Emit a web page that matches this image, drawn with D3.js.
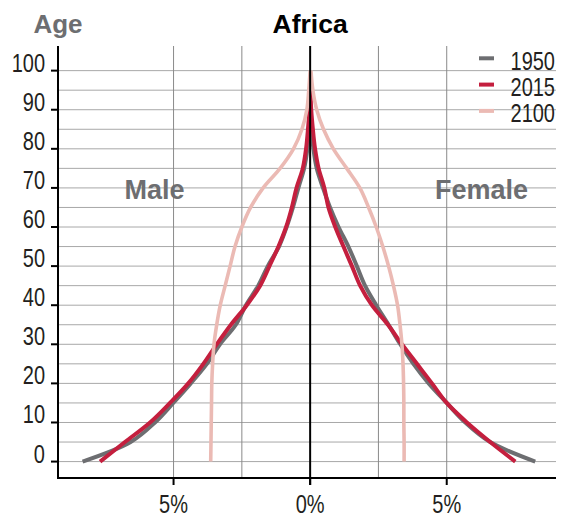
<!DOCTYPE html>
<html><head><meta charset="utf-8">
<script src="https://cdn.jsdelivr.net/npm/d3@7"></script>
<style>body{margin:0;background:#fff} svg{display:block}</style>
</head><body><svg id="c" width="563" height="518"></svg>
<script>
// ---- data (% of total population, by 5-year age group) ----
const ages = [0,5,10,15,20,25,30,35,40,45,50,55,60,65,70,75,80,85,90,95,100];
const male1950   = [8.33,6.57,5.68,5.01,4.37,3.78,3.30,2.72,2.35,1.90,1.55,1.14,0.86,0.63,0.43,0.22,0.10,0.04,0.01,null,null];
const male2015   = [7.69,6.78,5.86,5.13,4.46,3.91,3.42,2.90,2.32,1.83,1.49,1.16,0.88,0.67,0.50,0.27,0.15,0.08,0.03,0.01,null];
const male2100   = [3.64,3.63,3.62,3.61,3.60,3.57,3.52,3.42,3.29,3.11,2.93,2.75,2.50,2.18,1.72,1.10,0.61,0.30,0.12,0.05,0.00];
const female1950 = [8.24,6.59,5.68,5.00,4.34,3.78,3.30,2.87,2.42,2.01,1.71,1.40,1.04,0.73,0.47,0.24,0.12,0.05,0.01,null,null];
const female2015 = [7.51,6.59,5.74,5.00,4.46,3.91,3.36,2.85,2.26,1.83,1.53,1.22,0.92,0.67,0.52,0.31,0.18,0.10,0.04,0.01,null];
const female2100 = [3.44,3.44,3.43,3.43,3.42,3.40,3.36,3.29,3.20,3.05,2.87,2.66,2.42,2.14,1.82,1.34,0.85,0.49,0.24,0.10,0.03];
const years = ["1950","2015","2100"];
const colors = ["#6d6e71","#c41f3e","#ebbab4"];
const yTicks = [0,10,20,30,40,50,60,70,80,90,100];
const xTicks = [-5,0,5];
const xTickLabels = ["5%","0%","5%"];
const xGrid = [-5,-2.5,2.5,5];

const series = [
  {year:"1950", male:male1950, female:female1950},
  {year:"2015", male:male2015, female:female2015},
  {year:"2100", male:male2100, female:female2100}
];

const svg = d3.select("#c");
const numFont = "'Liberation Sans',Arial,sans-serif";
const boldFont = "'Liberation Sans',Arial,sans-serif";
const NUM_SIZE = 25, NUM_SX = 0.8;

function numText(g, px, py, txt, anchor) {
  g.append("text")
    .attr("transform", `translate(${px},${py}) scale(${NUM_SX},1)`)
    .attr("dy", "0.36em")
    .attr("text-anchor", anchor)
    .attr("font-family", numFont).attr("font-size", NUM_SIZE).attr("fill", "#231f20")
    .text(txt);
}

const x = d3.scaleLinear().domain([-9.23, 9.0]).range([58, 556]);
const y = d3.scaleLinear().domain([-4.2, 106.3]).range([478, 46]);

// horizontal grid
svg.append("g").selectAll("line").data(ages).join("line")
  .attr("x1", x.range()[0]).attr("x2", x.range()[1])
  .attr("y1", d => y(d)).attr("y2", d => y(d))
  .attr("stroke", "#a8a8a8").attr("stroke-width", 1);

// vertical grid
svg.append("g").selectAll("line").data(xGrid).join("line")
  .attr("x1", d => x(d)).attr("x2", d => x(d))
  .attr("y1", y.range()[1]).attr("y2", y.range()[0])
  .attr("stroke", "#8a8a8a").attr("stroke-width", 1);

// lines
const line = d3.line()
  .defined(d => d.v != null)
  .x(d => x(d.v)).y(d => y(d.a))
  .curve(d3.curveCatmullRom.alpha(0.5));

series.forEach((s, i) => {
  const m = ages.map((a, k) => ({a, v: s.male[k] == null ? null : -s.male[k]}));
  const f = ages.map((a, k) => ({a, v: s.female[k]}));
  [m, f].forEach(pts => {
    svg.append("path").datum(pts)
      .attr("d", line)
      .attr("fill", "none")
      .attr("stroke", colors[i])
      .attr("stroke-width", i === 2 ? 3.6 : 4);
  });
});

// center line
svg.append("line")
  .attr("x1", x(0)).attr("x2", x(0))
  .attr("y1", y.range()[1]).attr("y2", y.range()[0] + 7)
  .attr("stroke", "#000").attr("stroke-width", 2);

// left axis
const yAxis = svg.append("g").attr("transform", `translate(${x.range()[0]},0)`);
yAxis.append("line").attr("y1", y.range()[1]).attr("y2", y.range()[0])
  .attr("stroke", "#000").attr("stroke-width", 2);
yAxis.selectAll("line.t").data(yTicks).join("line").attr("class","t")
  .attr("x1", -7).attr("x2", 0).attr("y1", d => y(d)).attr("y2", d => y(d))
  .attr("stroke", "#000").attr("stroke-width", 2);
yTicks.forEach(d => numText(yAxis, -13, y(d) - 8, d, "end"));

// bottom axis
const xAxis = svg.append("g").attr("transform", `translate(0,${y.range()[0]})`);
xAxis.append("line").attr("x1", x.range()[0] - 1).attr("x2", x.range()[1])
  .attr("stroke", "#000").attr("stroke-width", 2);
xAxis.selectAll("line.t").data(xTicks).join("line").attr("class","t")
  .attr("x1", d => x(d)).attr("x2", d => x(d)).attr("y1", 0).attr("y2", 7)
  .attr("stroke", "#000").attr("stroke-width", 2);
xTicks.forEach((d, i) => numText(xAxis, x(d), 26, xTickLabels[i], "middle"));

// titles
svg.append("text").attr("x", 58).attr("y", 33).attr("text-anchor", "middle")
  .attr("font-family", boldFont).attr("font-weight", "bold").attr("font-size", 26)
  .attr("fill", "#6d6e71").text("Age");
svg.append("text").attr("x", x(0)).attr("y", 33).attr("text-anchor", "middle")
  .attr("font-family", boldFont).attr("font-weight", "bold").attr("font-size", 26.5)
  .attr("fill", "#000").text("Africa");
svg.append("text").attr("x", 154.5).attr("y", 198.5).attr("text-anchor", "middle")
  .attr("font-family", boldFont).attr("font-weight", "bold").attr("font-size", 27)
  .attr("fill", "#6d6e71").text("Male");
svg.append("text").attr("x", 481.5).attr("y", 199).attr("text-anchor", "middle")
  .attr("font-family", boldFont).attr("font-weight", "bold").attr("font-size", 27)
  .attr("fill", "#6d6e71").text("Female");

// legend
const leg = svg.append("g");
years.forEach((yr, i) => {
  const cy = 58.3 + i * 26.3;
  leg.append("line").attr("x1", 479).attr("x2", 494).attr("y1", cy).attr("y2", cy)
    .attr("stroke", colors[i]).attr("stroke-width", 4);
  numText(leg, 555, cy + 2.5, yr, "end");
});
</script>
</body></html>
